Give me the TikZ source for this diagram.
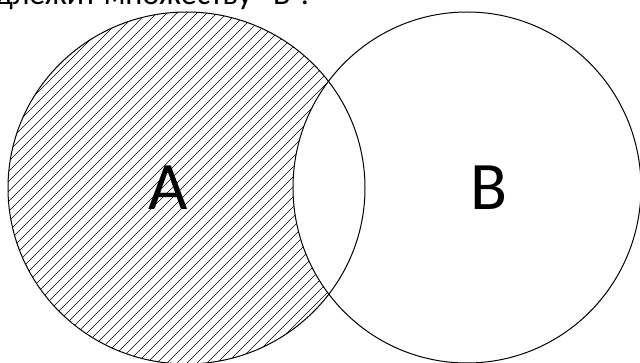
\documentclass[tikz,border=0pt]{standalone}
\usepackage{fontspec}
\setmainfont{Carlito}
\begin{document}
\begin{tikzpicture}[x=1pt,y=-1pt,
  setline/.style={draw=black,line width=1pt},
  hatchline/.style={draw=black,line width=0.7pt},
  biglabel/.style={font=\fontsize{68}{68}\selectfont,inner sep=0pt}]
\useasboundingbox (0,0) rectangle (640,363);
\clip (0,0) rectangle (640,363);
\fill[white] (0,0) rectangle (640,363);
% hatching of A minus B
\begin{scope}
  \clip (186.5,188) ellipse [x radius=178.5, y radius=176];
  \begin{scope}[even odd rule]
    \clip (186.5,188) ellipse [x radius=178.5, y radius=176]
          (467,187.5) ellipse [x radius=174, y radius=175.5];
    \foreach \i in {-400,-390,...,800} \draw[hatchline] (\i,400) -- ++(420,-420);
  \end{scope}
\end{scope}
\draw[setline] (186.5,188) ellipse [x radius=178.5, y radius=176];
\draw[setline] (467,187.5) ellipse [x radius=174, y radius=175.5];
\node[biglabel] (A) at (168.5,187.5) {A};
\node[biglabel] (B) at (489,187.5) {B};
\node[anchor=base east,inner sep=0pt,font=\fontsize{32}{32}\selectfont] (title) at (309,5) {принадлежит множеству "B".};
\end{tikzpicture}
\end{document}
